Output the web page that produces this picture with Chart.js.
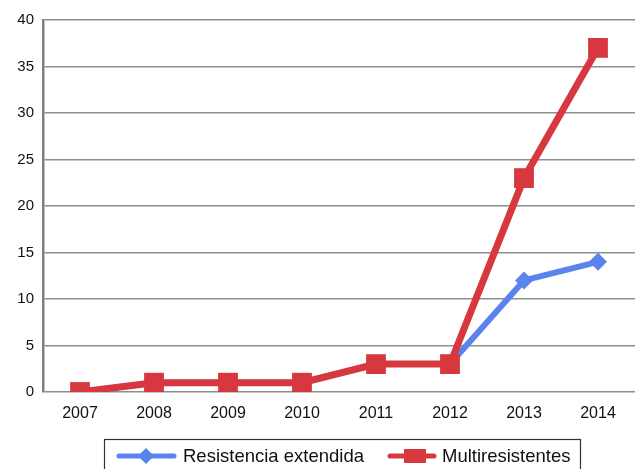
<!DOCTYPE html>
<html>
<head>
<meta charset="utf-8">
<script src="https://cdn.jsdelivr.net/npm/chart.js@4.4.0/dist/chart.umd.min.js"></script>
<style>
html,body{margin:0;padding:0;background:#fff;}
canvas{display:block;}
</style>
</head>
<body>
<canvas id="c" width="635" height="469"></canvas>
<script>
const years = ['2007','2008','2009','2010','2011','2012','2013','2014'];
const resistenciaExtendida = [0, 1, 1, 1, 3, 3, 12, 14];
const multiresistentes = [0, 1, 1, 1, 3, 3, 23, 37];
const yTicks = [0, 5, 10, 15, 20, 25, 30, 35, 40];

const BLUE = '#5a83ee';
const RED = '#d7383f';
const FONT = '"Liberation Sans", Arial, sans-serif';

const boxLegend = {
  id: 'boxLegend',
  afterDraw(chart) {
    const ctx = chart.ctx;
    ctx.save();
    ctx.strokeStyle = '#333';
    ctx.lineWidth = 1.2;
    ctx.strokeRect(104.5, 439.5, 476, 40);
    const cy = 456;
    ctx.strokeStyle = BLUE;
    ctx.lineWidth = 5;
    ctx.lineCap = 'round';
    ctx.beginPath(); ctx.moveTo(119, cy); ctx.lineTo(174, cy); ctx.stroke();
    ctx.fillStyle = BLUE;
    ctx.beginPath();
    ctx.moveTo(146, cy - 8); ctx.lineTo(154, cy); ctx.lineTo(146, cy + 8); ctx.lineTo(138, cy);
    ctx.closePath(); ctx.fill();
    ctx.strokeStyle = RED;
    ctx.beginPath(); ctx.moveTo(390, cy); ctx.lineTo(434, cy); ctx.stroke();
    ctx.fillStyle = RED;
    ctx.fillRect(404, cy - 7, 22, 14);
    ctx.fillStyle = '#111';
    ctx.font = '18.5px ' + FONT;
    ctx.textBaseline = 'middle';
    ctx.textAlign = 'left';
    const ds = chart.data.datasets;
    ctx.fillText(ds[0].label, 183, cy + 1);
    ctx.fillText(ds[1].label, 442, cy + 1);
    ctx.restore();
  }
};

new Chart(document.getElementById('c'), {
  type: 'line',
  data: {
    labels: years,
    datasets: [
      {
        label: 'Resistencia extendida',
        data: resistenciaExtendida,
        borderColor: BLUE,
        backgroundColor: BLUE,
        borderWidth: 6,
        pointStyle: 'rectRot',
        pointRadius: 9,
        pointBorderWidth: 0,
        tension: 0,
        order: 2
      },
      {
        label: 'Multiresistentes',
        data: multiresistentes,
        borderColor: RED,
        backgroundColor: RED,
        borderWidth: 7,
        pointStyle: 'rect',
        pointRadius: 14,
        pointBorderWidth: 0,
        tension: 0,
        order: 1
      }
    ]
  },
  options: {
    responsive: false,
    devicePixelRatio: 1,
    animation: false,
    layout: { autoPadding: false, padding: { top: 20, right: 0, bottom: 47, left: 0 } },
    plugins: { legend: { display: false }, tooltip: { enabled: false } },
    scales: {
      x: {
        offset: true,
        afterFit(s) { s.height = 30; },
        grid: { display: false, drawTicks: false },
        border: { display: false },
        ticks: { color: '#111', font: { family: FONT, size: 16 }, padding: 12 }
      },
      y: {
        min: 0,
        max: 40,
        afterFit(s) { s.width = 43; },
        afterBuildTicks(s) { s.ticks = yTicks.map(v => ({ value: v })); },
        grid: { color: '#8e8e8e', lineWidth: 1.5, drawTicks: false },
        border: { display: true, color: '#7f7f7f', width: 2.5 },
        ticks: { color: '#111', font: { family: FONT, size: 15 }, padding: 9 }
      }
    }
  },
  plugins: [boxLegend]
});
</script>
</body>
</html>
